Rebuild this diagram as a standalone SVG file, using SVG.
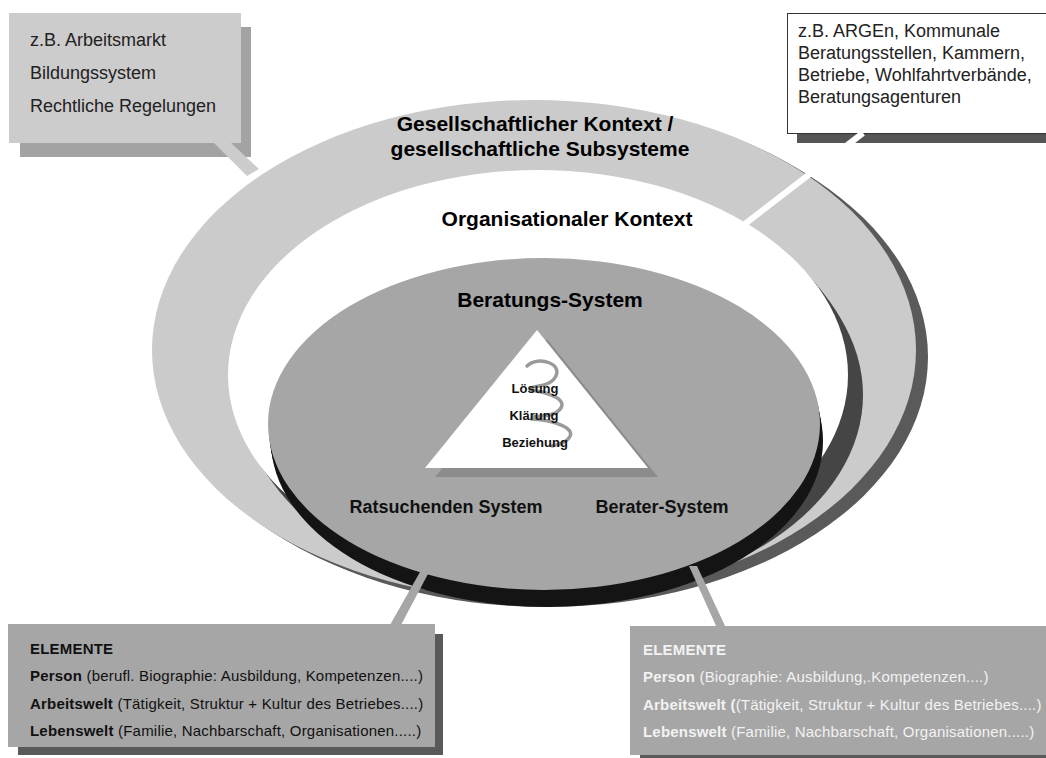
<svg xmlns="http://www.w3.org/2000/svg" width="1046" height="758" viewBox="0 0 1046 758">
  <style>
    text { font-family: "Liberation Sans", Arial, sans-serif; }
    .note { font-size: 18px; fill: #222; }
    .title { font-size: 21px; font-weight: bold; fill: #000; }
    .sys { font-size: 18px; font-weight: bold; fill: #111; }
    .lvl { font-size: 13px; font-weight: bold; fill: #111; }
    .el { font-size: 15px; fill: #111; letter-spacing: 0.2px; }
    .el-light { font-size: 15px; fill: #f2f2f2; letter-spacing: 0.2px; }
    .b { font-weight: bold; }
    .ring-outer { fill: #cbcbcb; }
    .ring-outer-side { fill: #5a5a5a; }
    .ring-mid { fill: #ffffff; }
    .ring-mid-side { fill: #454545; }
    .core { fill: #a6a6a6; }
    .core-side { fill: #141414; }
  </style>
  <defs>
    <ellipse id="outerShape" cx="534" cy="350" rx="382" ry="250"/>
    <ellipse id="midShape" cx="538" cy="375" rx="310" ry="205"/>
    <ellipse id="coreShape" cx="544" cy="424" rx="276" ry="166"/>
  </defs>

  <!-- societal context ring with its extruded side -->
  <g id="societal-context">
    <g class="ring-outer-side">
      <use href="#outerShape" transform="translate(4,2)"/>
      <use href="#outerShape" transform="translate(8,5)"/>
      <use href="#outerShape" transform="translate(12,7)"/>
    </g>
    <use href="#outerShape" class="ring-outer"/>
    <text class="title" x="535" y="131" text-anchor="middle">Gesellschaftlicher Kontext /</text>
    <text class="title" x="540" y="156" text-anchor="middle">gesellschaftliche Subsysteme</text>
  </g>

  <!-- organisational context -->
  <g id="organisational-context">
    <g class="ring-mid-side">
      <use href="#midShape" transform="translate(4,5)"/>
      <use href="#midShape" transform="translate(8,10)"/>
      <use href="#midShape" transform="translate(12,15)"/>
      <use href="#midShape" transform="translate(15,20)"/>
    </g>
    <use href="#midShape" class="ring-mid"/>
    <text class="title" x="567" y="226" text-anchor="middle">Organisationaler Kontext</text>
  </g>

  <!-- counselling system -->
  <g id="counselling-system">
    <g class="core-side">
      <use href="#coreShape" transform="translate(1,6)"/>
      <use href="#coreShape" transform="translate(2,12)"/>
      <use href="#coreShape" transform="translate(3,17)"/>
    </g>
    <use href="#coreShape" class="core"/>
    <text class="title" x="550" y="307" text-anchor="middle">Beratungs-System</text>
    <text class="sys" x="446" y="513" text-anchor="middle">Ratsuchenden System</text>
    <text class="sys" x="662" y="513" text-anchor="middle">Berater-System</text>
  </g>

  <!-- process triangle with spiral -->
  <g id="process-triangle">
    <polygon points="547,339 435,477 658,477" fill="#8c8c8c"/>
    <polygon points="537,330 425,468 648,468" fill="#ffffff"/>
    <path d="M527,366 C538,355 566,364 554,379 C547,388 530,385 530,390 C547,392 573,400 557,412 C549,418 532,414 532,419 C551,420 581,428 567,440 C563,444 557,445 552,446"
          fill="none" stroke="#9a9a9a" stroke-width="3.5" stroke-linecap="round"/>
    <text class="lvl" x="535" y="393" text-anchor="middle">Lösung</text>
    <text class="lvl" x="534" y="420" text-anchor="middle">Klärung</text>
    <text class="lvl" x="535" y="447" text-anchor="middle">Beziehung</text>
  </g>

  <!-- note: societal examples -->
  <g id="note-societal">
    <rect x="20" y="27" width="231" height="130" fill="#a3a3a3"/>
    <rect x="9" y="13" width="232" height="130" fill="#cccccc"/>
    <polygon points="213,142 230,142 259,169 247,176" fill="#cccccc"/>
    <text class="note" x="30" y="46">z.B. Arbeitsmarkt</text>
    <text class="note" x="30" y="79">Bildungssystem</text>
    <text class="note" x="30" y="112">Rechtliche Regelungen</text>
  </g>

  <!-- note: organisational examples -->
  <g id="note-organisational">
    <rect x="797" y="23" width="260" height="120" fill="#555555"/>
    <rect x="787.5" y="13.5" width="266" height="120" fill="#ffffff" stroke="#333333" stroke-width="1"/>
    <text class="note" x="798" y="37">z.B. ARGEn, Kommunale</text>
    <text class="note" x="798" y="59">Beratungsstellen, Kammern,</text>
    <text class="note" x="798" y="81">Betriebe, Wohlfahrtverbände,</text>
    <text class="note" x="798" y="103">Beratungsagenturen</text>
  </g>

  <!-- connectors: callout pointers -->
  <g id="connectors">
    <line x1="863" y1="133" x2="741" y2="227" stroke="#ffffff" stroke-width="6"/>
    <polygon points="390,625 401,625 429,572 420,572" fill="#a6a6a6"/>
    <polygon points="689,566 697,566 726,628 717,628" fill="#a6a6a6"/>
  </g>

  <!-- note: elements of the client system -->
  <g id="elements-client">
    <rect x="18" y="634" width="425" height="121" fill="#595959"/>
    <rect x="8" y="624" width="427" height="123" fill="#a6a6a6"/>
    <text class="el b" x="30" y="654">ELEMENTE</text>
    <text class="el" x="30" y="681"><tspan class="b">Person</tspan> (berufl. Biographie: Ausbildung, Kompetenzen....)</text>
    <text class="el" x="30" y="709"><tspan class="b">Arbeitswelt</tspan> (Tätigkeit, Struktur + Kultur des Betriebes....)</text>
    <text class="el" x="30" y="736"><tspan class="b">Lebenswelt</tspan> (Familie, Nachbarschaft, Organisationen.....)</text>
  </g>

  <!-- note: elements of the counsellor system -->
  <g id="elements-counsellor">
    <rect x="640" y="636" width="420" height="130" fill="#595959"/>
    <rect x="630" y="626" width="420" height="129" fill="#a6a6a6"/>
    <text class="el-light b" x="643" y="655">ELEMENTE</text>
    <text class="el-light" x="643" y="682"><tspan class="b">Person</tspan> (Biographie: Ausbildung,.Kompetenzen....)</text>
    <text class="el-light" x="643" y="710"><tspan class="b">Arbeitswelt (</tspan>(Tätigkeit, Struktur + Kultur des Betriebes....)</text>
    <text class="el-light" x="643" y="737"><tspan class="b">Lebenswelt</tspan> (Familie, Nachbarschaft, Organisationen.....)</text>
  </g>
</svg>
